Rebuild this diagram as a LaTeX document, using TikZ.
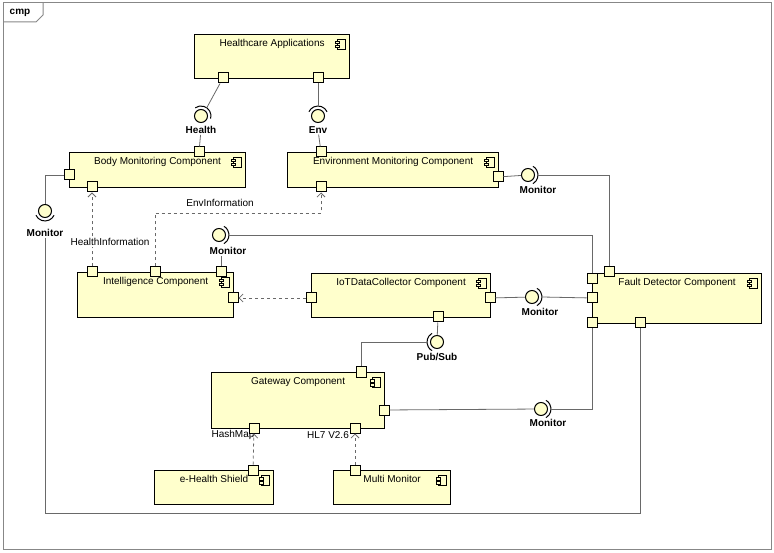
\documentclass[tikz,border=0pt]{standalone}
\usepackage{fontspec}
\setmainfont{Liberation Sans}
\usetikzlibrary{arrows.meta,calc}
\definecolor{compfill}{RGB}{255,255,204}
\definecolor{wirecol}{RGB}{105,105,105}
\definecolor{framecol}{RGB}{135,135,135}

\begin{document}
\begin{tikzpicture}[x=1pt, y=-1pt,
  every node/.style={font=\fontsize{10}{12}\selectfont},
  comp/.style={draw, line width=1.2pt, fill=compfill, inner sep=0pt, anchor=north west,
    path picture={
      \draw[line width=0.6pt] ([xshift=-12pt,yshift=-5pt]path picture bounding box.north east) rectangle ++(8pt,-10pt);
      \draw[line width=0.6pt, fill=compfill]
        ([xshift=-14pt,yshift=-7pt]path picture bounding box.north east) rectangle ++(4pt,-2.2pt)
        ([xshift=-14pt,yshift=-11pt]path picture bounding box.north east) rectangle ++(4pt,-2.2pt);}},
  title/.style={anchor=north, yshift=-2pt},
  port/.style={draw, line width=1pt, fill=compfill, minimum size=10pt, inner sep=0pt},
  ball/.style={circle, draw, line width=1pt, fill=compfill, minimum size=13pt, inner sep=0pt},
  iface/.style={font=\bfseries\fontsize{10}{12}\selectfont, inner sep=1pt},
  plabel/.style={inner sep=1pt},
  socket/.style={line width=1pt},
  wire/.style={draw=wirecol, line width=0.8pt},
  dep/.style={wire, dashed, -{Straight Barb[length=4pt,width=8pt]}}
]
  \useasboundingbox (0,0) rectangle (774,553);

  \draw[framecol, line width=1pt] (3,3) rectangle (771,549);
  \draw[framecol, line width=1pt] (3,22) -- (36,22) -- (43,15) -- (43,3);
  \node[font=\bfseries\fontsize{10}{12}\selectfont] (tab) at (20,13) {cmp};

  \node[comp, minimum width=155pt, minimum height=44pt, label={[title]north:Healthcare Applications}] (hc) at (194,34) {};
  \node[comp, minimum width=176pt, minimum height=35pt, label={[title]north:Body Monitoring Component}] (body) at (69,152) {};
  \node[comp, minimum width=211pt, minimum height=35pt, label={[title]north:Environment Monitoring Component}] (env) at (287,152) {};
  \node[comp, minimum width=156pt, minimum height=45pt, label={[title]north:Intelligence Component}] (intel) at (77,272) {};
  \node[comp, minimum width=179pt, minimum height=44pt, label={[title]north:IoTDataCollector Component}] (iot) at (311,273) {};
  \node[comp, minimum width=169pt, minimum height=50pt, label={[title]north:Fault Detector Component}] (fault) at (592,273) {};
  \node[comp, minimum width=173pt, minimum height=56pt, label={[title]north:Gateway Component}] (gw) at (211,372) {};
  \node[comp, minimum width=119pt, minimum height=34pt, label={[title]north:e-Health Shield}] (shield) at (154,470) {};
  \node[comp, minimum width=117pt, minimum height=34pt, label={[title]north:Multi Monitor}] (multi) at (333,470) {};

  \node[plabel] (hashmap) at (233,435) {HashMap};
  \node[plabel] (hlseven) at (328,435) {HL7 V2.6};

  \node[port] (hcH) at (223,78) {};
  \node[port] (hcE) at (318,78) {};
  \node[port] (bdT) at (199,152) {};
  \node[port] (bdL) at (69,175) {};
  \node[port] (bdB) at (92,187) {};
  \node[port] (evT) at (321,152) {};
  \node[port] (evB) at (321,187) {};
  \node[port] (evR) at (498,177) {};
  \node[port] (inH) at (92,272) {};
  \node[port] (inE) at (155,272) {};
  \node[port] (inM) at (221,272) {};
  \node[port] (inR) at (233,298) {};
  \node[port] (ioL) at (311,298) {};
  \node[port] (ioR) at (490,298) {};
  \node[port] (ioB) at (438,317) {};
  \node[port] (fdTL) at (592,279) {};
  \node[port] (fdT) at (609,272) {};
  \node[port] (fdL) at (592,298) {};
  \node[port] (fdB) at (592,323) {};
  \node[port] (fdBR) at (640,323) {};
  \node[port] (gwT) at (361,372) {};
  \node[port] (gwR) at (384,410) {};
  \node[port] (gwH) at (254,428) {};
  \node[port] (gwL) at (355,428) {};
  \node[port] (shP) at (253,470) {};
  \node[port] (mmP) at (355,470) {};

  \node[ball] (hlb) at (201,116) {};
  \node[iface] (hll) at (201,130) {Health};
  \node[ball] (elb) at (318,116) {};
  \node[iface] (ell) at (318,130) {Env};
  \node[ball] (bmb) at (45,211) {};
  \node[iface] (bml) at (45,233) {Monitor};
  \node[ball] (emb) at (528,175) {};
  \node[iface] (eml) at (538,190) {Monitor};
  \node[ball] (imb) at (219,235) {};
  \node[iface] (iml) at (228,251) {Monitor};
  \node[ball] (iob) at (532,297) {};
  \node[iface] (iol) at (540,312) {Monitor};
  \node[ball] (psb) at (437,342) {};
  \node[iface] (psl) at (437,357) {Pub/Sub};
  \node[ball] (gmb) at (541,409) {};
  \node[iface] (gml) at (548,423) {Monitor};

  \draw[socket] (hlb) ++(-15:10pt) arc[start angle=-15, end angle=125, radius=10pt];
  \draw[socket] (elb) ++(25:10pt) arc[start angle=25, end angle=155, radius=10pt];
  \draw[socket] (bmb) ++(205:10pt) arc[start angle=205, end angle=335, radius=10pt];
  \draw[socket] (emb) ++(-60:10pt) arc[start angle=-60, end angle=60, radius=10pt];
  \draw[socket] (imb) ++(-60:10pt) arc[start angle=-60, end angle=60, radius=10pt];
  \draw[socket] (iob) ++(-60:10pt) arc[start angle=-60, end angle=60, radius=10pt];
  \draw[socket] (psb) ++(120:10pt) arc[start angle=120, end angle=240, radius=10pt];
  \draw[socket] (gmb) ++(-60:10pt) arc[start angle=-60, end angle=60, radius=10pt];

  \path (hlb) ++(55:10pt) coordinate (hls);
  \path (elb) ++(90:10pt) coordinate (els);
  \path (bmb) ++(270:10pt) coordinate (bms);
  \path (emb) ++(0:10pt) coordinate (ems);
  \path (imb) ++(0:10pt) coordinate (ims);
  \path (iob) ++(0:10pt) coordinate (ios);
  \path (psb) ++(180:10pt) coordinate (pss);
  \path (gmb) ++(0:10pt) coordinate (gms);
  \coordinate (botline) at (0,513);
  \coordinate (envbend) at (0,213);

  \draw[wire] (hcH) -- (hls);
  \draw[wire] (hll) -- (bdT);
  \draw[wire] (hcE) -- (els);
  \draw[wire] (ell) -- (evT);
  \draw[wire] (bdL) -| (bmb);
  \draw[wire] (bml) -- (bml |- botline) -| (fdBR);
  \draw[wire] (evR) -- (emb);
  \draw[wire] (ems) -| (fdT);
  \draw[wire] (inM) -- (inM |- iml.south);
  \draw[wire] (ims) -| (fdTL);
  \draw[wire] (ioR) -- (iob);
  \draw[wire] (ios) -- (fdL);
  \draw[wire] (ioB) -- (psb);
  \draw[wire] (pss) -| (gwT);
  \draw[wire] (gwR) -- (gmb);
  \draw[wire] (gms) -| (fdB);

  \draw[dep] (inH) -- (bdB);
  \draw[dep] (inE) -- (inE |- envbend) -| (evB);
  \draw[dep] (ioL) -- (inR);
  \draw[dep] (shP) -- (gwH);
  \draw[dep] (mmP) -- (gwL);
  \node[fill=white, inner sep=1pt] (healthinfo) at (110,242) {HealthInformation};
  \node (envinfo) at (220,203) {EnvInformation};
\end{tikzpicture}
\end{document}
